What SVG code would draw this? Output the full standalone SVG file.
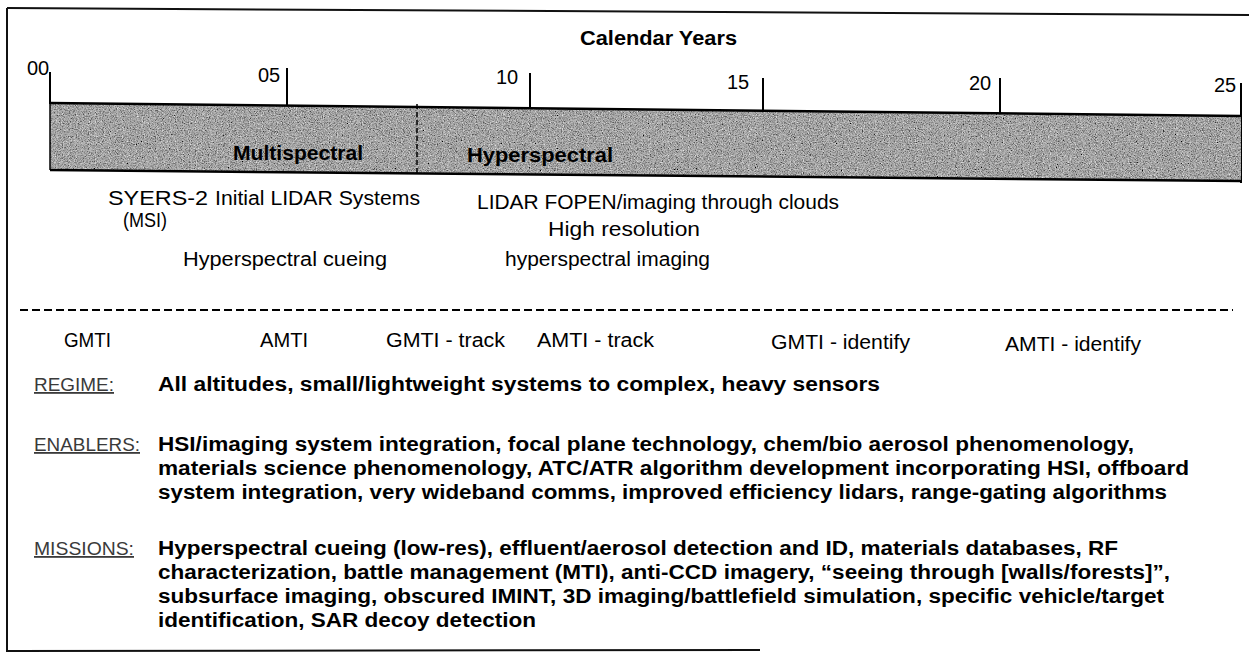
<svg xmlns="http://www.w3.org/2000/svg" width="1249" height="658" viewBox="0 0 1249 658">
<defs>
<filter id="grain" x="0" y="0" width="100%" height="100%">
<feTurbulence type="fractalNoise" baseFrequency="0.85" numOctaves="2" seed="7" result="noise"/>
<feColorMatrix in="noise" type="matrix" values="0 0 0 0 0  0 0 0 0 0  0 0 0 0 0  2.2 0 0 0 -0.85" result="dark"/>
<feComposite in="dark" in2="SourceGraphic" operator="in" result="darkIn"/>
<feColorMatrix in="noise" type="matrix" values="0 0 0 0 1  0 0 0 0 1  0 0 0 0 1  0 -2.2 0 0 0.95" result="light"/>
<feComposite in="light" in2="SourceGraphic" operator="in" result="lightIn"/>
<feMerge><feMergeNode in="SourceGraphic"/><feMergeNode in="darkIn"/><feMergeNode in="lightIn"/></feMerge>
</filter>
</defs>
<style>
.t{font-family:"Liberation Sans",Arial,sans-serif;font-size:20px;fill:#000}
.b{font-family:"Liberation Sans",Arial,sans-serif;font-size:20px;font-weight:bold;fill:#000}
.lab{font-family:"Liberation Sans",Arial,sans-serif;font-size:18px;fill:#3a3a3a;text-decoration:underline}
.tick{stroke:#000;stroke-width:2;fill:none}
.frame{stroke:#111;stroke-width:2;fill:none}
</style>
<rect x="0" y="0" width="1249" height="658" fill="#fff"/>
<g id="frame">
<line class="frame" x1="7" y1="8" x2="1249" y2="15"/>
<line class="frame" x1="7" y1="8" x2="7" y2="652"/>
<line class="frame" x1="7" y1="651" x2="760" y2="650"/>
</g>
<g id="header">
<text class="b" x="580" y="45" textLength="157" lengthAdjust="spacingAndGlyphs">Calendar Years</text>
<text class="t" x="27" y="75">00</text>
<text class="t" x="258" y="82">05</text>
<text class="t" x="496" y="84">10</text>
<text class="t" x="727" y="89">15</text>
<text class="t" x="969" y="90">20</text>
<text class="t" x="1214" y="92">25</text>
<line class="tick" x1="50" y1="72" x2="50" y2="104"/>
<line class="tick" x1="287" y1="68" x2="287" y2="107"/>
<line class="tick" x1="530" y1="73" x2="530" y2="110"/>
<line class="tick" x1="763" y1="78" x2="763" y2="113"/>
<line class="tick" x1="1000" y1="78" x2="1000" y2="116"/>
<line class="tick" x1="1241" y1="83" x2="1241" y2="183"/>
</g>
<g id="bar">
<polygon points="50,103 1241,116 1241,181 50,170" fill="#b4b4b4" filter="url(#grain)"/>
<line x1="50" y1="103" x2="1241" y2="116" stroke="#000" stroke-width="2.5"/>
<line x1="50" y1="170" x2="1241" y2="181" stroke="#000" stroke-width="2.5"/>
<line x1="50" y1="103" x2="50" y2="170" stroke="#000" stroke-width="1.5"/>
<line x1="417" y1="104" x2="417" y2="173" stroke="#000" stroke-width="1.5" stroke-dasharray="5,3"/>
<text class="b" x="233" y="160" font-size="19" textLength="130" lengthAdjust="spacingAndGlyphs">Multispectral</text>
<text class="b" x="467" y="162" font-size="19" textLength="146" lengthAdjust="spacingAndGlyphs">Hyperspectral</text>
</g>
<g id="technologies">
<text class="t" x="108" y="205" textLength="100" lengthAdjust="spacingAndGlyphs">SYERS-2</text>
<text class="t" x="123" y="227" textLength="44" lengthAdjust="spacingAndGlyphs">(MSI)</text>
<text class="t" x="215" y="205" textLength="205" lengthAdjust="spacingAndGlyphs">Initial LIDAR Systems</text>
<text class="t" x="477" y="209" textLength="362" lengthAdjust="spacingAndGlyphs">LIDAR FOPEN/imaging through clouds</text>
<text class="t" x="548" y="236" textLength="152" lengthAdjust="spacingAndGlyphs">High resolution</text>
<text class="t" x="183" y="266" textLength="204" lengthAdjust="spacingAndGlyphs">Hyperspectral cueing</text>
<text class="t" x="505" y="266" textLength="205" lengthAdjust="spacingAndGlyphs">hyperspectral imaging</text>
</g>
<g id="divider">
<line x1="20" y1="310" x2="1233" y2="310" stroke="#000" stroke-width="2" stroke-dasharray="8,4"/>
</g>
<g id="radar-modes">
<text class="t" x="64" y="347" textLength="47" lengthAdjust="spacingAndGlyphs">GMTI</text>
<text class="t" x="260" y="347" textLength="48" lengthAdjust="spacingAndGlyphs">AMTI</text>
<text class="t" x="386" y="347" textLength="119" lengthAdjust="spacingAndGlyphs">GMTI - track</text>
<text class="t" x="537" y="347" textLength="117" lengthAdjust="spacingAndGlyphs">AMTI - track</text>
<text class="t" x="771" y="349" textLength="139" lengthAdjust="spacingAndGlyphs">GMTI - identify</text>
<text class="t" x="1005" y="351" textLength="136" lengthAdjust="spacingAndGlyphs">AMTI - identify</text>
</g>
<g id="regime">
<text class="lab" x="34" y="391" textLength="80" lengthAdjust="spacingAndGlyphs">REGIME:</text>
<text class="b" x="158" y="391" textLength="722" lengthAdjust="spacingAndGlyphs">All altitudes, small/lightweight systems to complex, heavy sensors</text>
</g>
<g id="enablers">
<text class="lab" x="34" y="451" textLength="106" lengthAdjust="spacingAndGlyphs">ENABLERS:</text>
<text class="b" x="158" y="451" textLength="976" lengthAdjust="spacingAndGlyphs">HSI/imaging system integration, focal plane technology, chem/bio aerosol phenomenology,</text>
<text class="b" x="158" y="475" textLength="1031" lengthAdjust="spacingAndGlyphs">materials science phenomenology, ATC/ATR algorithm development incorporating HSI, offboard</text>
<text class="b" x="158" y="499" textLength="1009" lengthAdjust="spacingAndGlyphs">system integration, very wideband comms, improved efficiency lidars, range-gating algorithms</text>
</g>
<g id="missions">
<text class="lab" x="34" y="555" textLength="100" lengthAdjust="spacingAndGlyphs">MISSIONS:</text>
<text class="b" x="158" y="555" textLength="960" lengthAdjust="spacingAndGlyphs">Hyperspectral cueing (low-res), effluent/aerosol detection and ID, materials databases, RF</text>
<text class="b" x="158" y="579" textLength="1012" lengthAdjust="spacingAndGlyphs">characterization, battle management (MTI), anti-CCD imagery, “seeing through [walls/forests]”,</text>
<text class="b" x="158" y="603" textLength="1006" lengthAdjust="spacingAndGlyphs">subsurface imaging, obscured IMINT, 3D imaging/battlefield simulation, specific vehicle/target</text>
<text class="b" x="158" y="627" textLength="378" lengthAdjust="spacingAndGlyphs">identification, SAR decoy detection</text>
</g>
</svg>
